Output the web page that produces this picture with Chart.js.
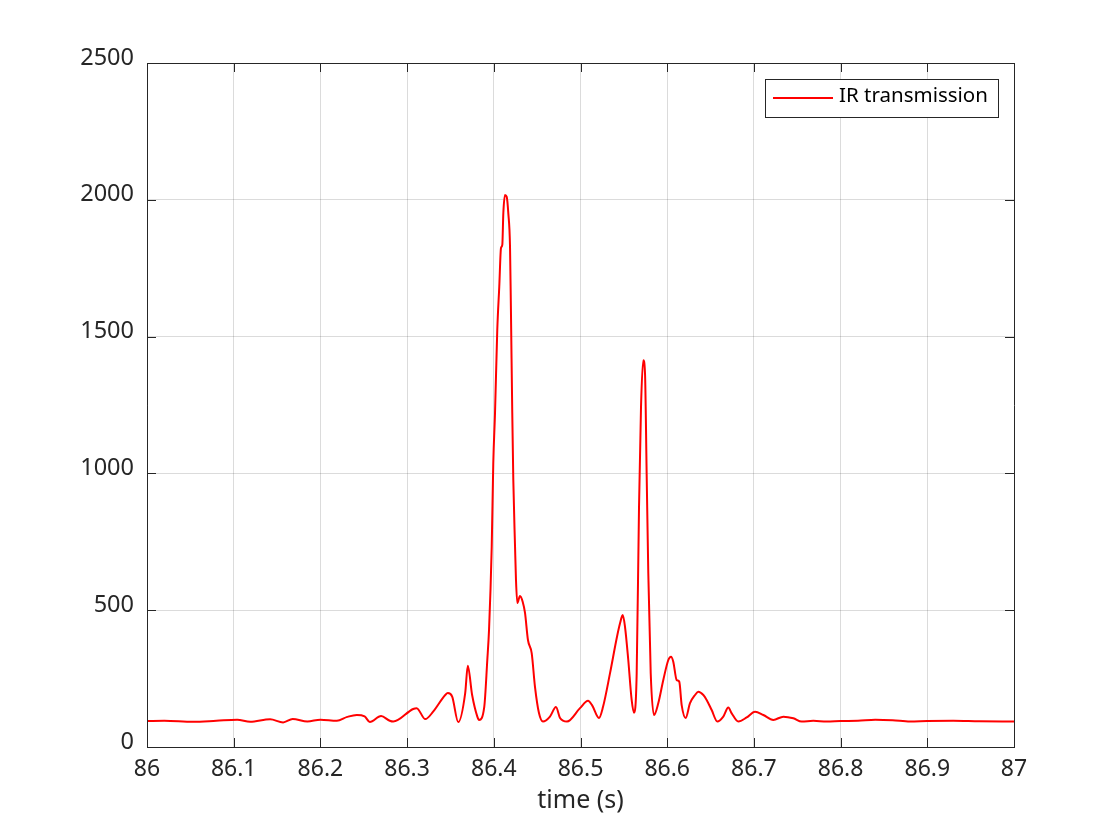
<!DOCTYPE html>
<html>
<head>
<meta charset="utf-8">
<script src="https://cdn.jsdelivr.net/npm/chart.js@4/dist/chart.umd.min.js"></script>
<style>
    body { margin: 0; background: #fff; }
    #wrap { width: 1120px; height: 840px; }
</style>
</head>
<body>
<div id="wrap"><canvas id="ir_chart" width="1120" height="840"></canvas></div>
<script>
// time axis (s)
const times = [
    86.000, 86.020, 86.053, 86.080, 86.104, 86.119, 86.142, 86.157, 86.168, 86.185,
    86.200, 86.219, 86.231, 86.242, 86.251, 86.257, 86.270, 86.280, 86.284, 86.307,
    86.311, 86.321, 86.330, 86.344, 86.347, 86.352, 86.359, 86.367, 86.370, 86.375,
    86.381, 86.383, 86.389, 86.3925, 86.3945, 86.3976, 86.3994, 86.4014, 86.404, 86.4063,
    86.4083, 86.4098, 86.411, 86.4129, 86.4149, 86.4167, 86.4187, 86.4198, 86.4213, 86.4225,
    86.4245, 86.4256, 86.4271, 86.4302, 86.4333, 86.436, 86.4394, 86.4437, 86.4475, 86.4521,
    86.4567, 86.4648, 86.4717, 86.4764, 86.4844, 86.4994, 86.5087, 86.5133, 86.5213, 86.526,
    86.534, 86.5421, 86.5456, 86.5487, 86.5513, 86.5551, 86.559, 86.5617, 86.5648, 86.5675,
    86.5698, 86.5724, 86.5744, 86.5763, 86.5782, 86.581, 86.5848, 86.5897, 86.5955, 86.6013,
    86.6044, 86.607, 86.6109, 86.6139, 86.6167, 86.6213, 86.6263, 86.6321, 86.6359, 86.6417,
    86.6455, 86.6513, 86.6578, 86.6647, 86.6705, 86.6744, 86.682, 86.6917, 86.7013, 86.7109,
    86.7224, 86.734, 86.7455, 86.7551, 86.7685, 86.7839, 86.800, 86.820, 86.840, 86.860,
    86.880, 86.900, 86.930, 86.960, 87.000
]
// IR transmission values
const irValues = [
    95, 96, 92, 96, 100, 92, 101, 90, 102, 93,
    100, 96, 110, 117, 112, 91, 113, 96, 93, 139,
    142, 102, 129, 190, 197, 184, 91, 197, 297, 190,
    111, 99, 147, 318, 428, 732, 1038, 1221, 1524, 1682,
    1824, 1835, 1952, 2018, 2011, 1952, 1829, 1586, 1221, 976,
    732, 610, 526, 552, 531, 490, 391, 343, 220, 124,
    93, 111, 146, 106, 93, 142, 169, 153, 106, 147,
    269, 403, 452, 482, 440, 318, 172, 125, 269, 878,
    1244, 1414, 1366, 1000, 635, 269, 117, 160, 245, 318,
    330, 312, 245, 239, 153, 106, 160, 190, 202, 190,
    172, 135, 93, 111, 144, 123, 93, 108, 129, 117,
    99, 111, 105, 93, 96, 93, 95, 96, 100, 98,
    93, 95, 96, 94, 93
]
const seriesLabel = 'IR transmission'
const xTitle = 'time (s)'

const axisColor = '#262626'
const fontFamily = "'Noto Sans', 'DejaVu Sans', sans-serif"

// box round the plot plus inward ticks, matlab style
const boxPlugin = {
    id: 'box',
    afterDatasetsDraw(chart) {
        const ctx = chart.ctx
        const a = chart.chartArea
        const xs = chart.scales.x
        const ys = chart.scales.y
        ctx.save()
        ctx.strokeStyle = axisColor
        ctx.lineWidth = 1
        ctx.beginPath()
        ctx.rect(Math.round(a.left) + 0.5, Math.round(a.top) + 0.5, Math.round(a.right - a.left), Math.round(a.bottom - a.top))
        ctx.stroke()
        ctx.beginPath()
        xs.ticks.forEach((t) => {
            const px = Math.round(xs.getPixelForValue(t.value)) + 0.5
            ctx.moveTo(px, a.bottom); ctx.lineTo(px, a.bottom - 9)
            ctx.moveTo(px, a.top); ctx.lineTo(px, a.top + 9)
        })
        ys.ticks.forEach((t) => {
            const py = Math.round(ys.getPixelForValue(t.value)) + 0.5
            ctx.moveTo(a.left, py); ctx.lineTo(a.left + 9, py)
            ctx.moveTo(a.right, py); ctx.lineTo(a.right - 9, py)
        })
        ctx.stroke()
        ctx.restore()
    }
}

const legendPlugin = {
    id: 'boxLegend',
    afterDraw(chart) {
        const ctx = chart.ctx
        ctx.save()
        ctx.fillStyle = '#ffffff'
        ctx.fillRect(765, 79, 234, 39)
        ctx.strokeStyle = axisColor
        ctx.lineWidth = 1
        ctx.strokeRect(765.5, 79.5, 233, 38)
        ctx.strokeStyle = '#ff0000'
        ctx.lineWidth = 2
        ctx.beginPath()
        ctx.moveTo(773, 98); ctx.lineTo(833, 98)
        ctx.stroke()
        ctx.fillStyle = '#000000'
        ctx.font = `20.5px ${fontFamily}`
        ctx.textBaseline = 'middle'
        ctx.fillText(seriesLabel, 839, 96)
        ctx.restore()
    }
}

const ctx = document.getElementById('ir_chart').getContext('2d')
new Chart(ctx, {
    type: 'line',
    data: {
        datasets: [{
            label: seriesLabel,
            data: times.map((t, i) => ({ x: t, y: irValues[i] })),
            borderColor: '#ff0000',
            borderWidth: 2,
            pointRadius: 0,
            cubicInterpolationMode: 'monotone',
            fill: false
        }]
    },
    options: {
        responsive: false,
        animation: false,
        layout: { padding: { top: 63, right: 106, left: 0, bottom: 24 } },
        plugins: {
            legend: { display: false },
            tooltip: { enabled: false }
        },
        scales: {
            x: {
                type: 'linear',
                min: 86,
                max: 87,
                afterFit: (scale) => { scale.height = 69 },
                ticks: {
                    stepSize: 0.1,
                    padding: 9,
                    color: axisColor,
                    font: { family: fontFamily, size: 23 },
                    maxRotation: 0,
                    callback: (v) => String(Number(v.toFixed(1)))
                },
                grid: { color: 'rgba(0,0,0,0.14)', drawTicks: false },
                border: { color: axisColor },
                title: {
                    display: true,
                    text: xTitle,
                    color: axisColor,
                    font: { family: fontFamily, size: 25 },
                    padding: { top: 2, bottom: 0 }
                }
            },
            y: {
                min: 0,
                max: 2500,
                afterFit: (scale) => { scale.width = 147 },
                ticks: {
                    stepSize: 500,
                    padding: 13,
                    labelOffset: -5,
                    color: axisColor,
                    font: { family: fontFamily, size: 23.5 },
                    callback: (v) => String(v)
                },
                grid: { color: 'rgba(0,0,0,0.14)', drawTicks: false },
                border: { color: axisColor }
            }
        }
    },
    plugins: [boxPlugin, legendPlugin]
})
</script>
</body>
</html>
